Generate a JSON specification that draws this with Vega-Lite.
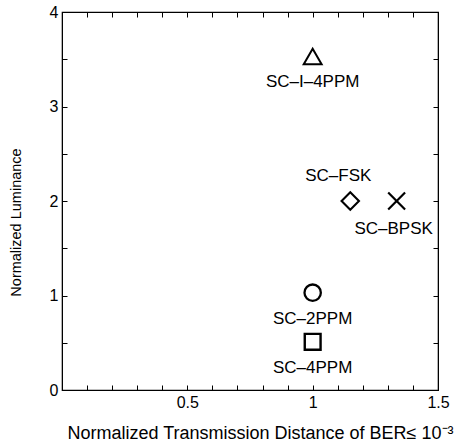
{
  "$schema": "https://vega.github.io/schema/vega-lite/v6.json",
  "width": 376,
  "height": 378,
  "autosize": "none",
  "padding": {"left": 62, "top": 12, "right": 29, "bottom": 55},
  "background": "white",
  "config": {
    "font": "Liberation Sans",
    "view": {"stroke": "black", "strokeWidth": 1.2},
    "axis": {"grid": false, "domainColor": "black", "tickColor": "black", "labelColor": "black", "titleColor": "black", "labelFont": "Liberation Sans", "titleFont": "Liberation Sans", "titleFontWeight": "normal"}
  },
  "data": {
    "values": [
      {"label": "SC–I–4PPM", "x": 1.0, "y": 3.53},
      {"label": "SC–FSK", "x": 1.15, "y": 2.0},
      {"label": "SC–BPSK", "x": 1.335, "y": 2.0},
      {"label": "SC–2PPM", "x": 1.0, "y": 1.03},
      {"label": "SC–4PPM", "x": 1.0, "y": 0.51}
    ]
  },
  "resolve": {"axis": {"x": "independent", "y": "independent"}},
  "layer": [
    {
      "encoding": {
        "x": {
          "field": "x", "type": "quantitative",
          "scale": {"domain": [0, 1.5], "nice": false, "zero": false},
          "axis": {
            "orient": "bottom",
            "title": "Normalized Transmission Distance of BER≤ 10⁻³",
            "titleFontSize": 18,
            "titleX": 198, "titleY": 48, "titleBaseline": "alphabetic", "titleAnchor": "middle", "titleAlign": "center",
            "values": [0, 0.1, 0.2, 0.3, 0.4, 0.5, 0.6, 0.7, 0.8, 0.9, 1, 1.1, 1.2, 1.3, 1.4, 1.5],
            "labelExpr": "(datum.value == 0.5 || datum.value == 1 || datum.value == 1.5) ? '' + datum.value : ''",
            "labelFontSize": 16, "labelPadding": 9, "labelFlush": false,
            "tickSize": -5, "domain": true, "labelOverlap": false
          }
        },
        "y": {
          "field": "y", "type": "quantitative",
          "scale": {"domain": [0, 4], "nice": false, "zero": false},
          "axis": {
            "orient": "left",
            "title": "Normalized Luminance",
            "titleFontSize": 14.5,
            "titleX": -46, "titleY": 210, "titleAngle": -90, "titleBaseline": "middle", "titleAlign": "center", "titleAnchor": "middle",
            "values": [0, 0.5, 1, 1.5, 2, 2.5, 3, 3.5, 4],
            "labelExpr": "datum.value % 1 == 0 ? '' + datum.value : ''",
            "labelFontSize": 16, "labelPadding": 9, "labelFlush": false,
            "tickSize": -5, "domain": true, "labelOverlap": false
          }
        }
      },
      "layer": [
        {
          "mark": {"type": "point", "filled": false, "stroke": "black", "opacity": 1},
          "encoding": {
            "shape": {"field": "label", "type": "nominal", "legend": null,
              "scale": {"domain": ["SC–I–4PPM", "SC–FSK", "SC–BPSK", "SC–2PPM", "SC–4PPM"],
                        "range": ["triangle-up", "diamond", "M-1,-1L1,1M1,-1L-1,1", "circle", "square"]}},
            "size": {"field": "label", "type": "nominal", "legend": null,
              "scale": {"domain": ["SC–I–4PPM", "SC–FSK", "SC–BPSK", "SC–2PPM", "SC–4PPM"],
                        "range": [320, 250, 130, 256, 156]}},
            "strokeWidth": {"field": "label", "type": "nominal", "legend": null,
              "scale": {"domain": ["SC–I–4PPM", "SC–FSK", "SC–BPSK", "SC–2PPM", "SC–4PPM"],
                        "range": [2, 2.4, 1.1, 1.8, 2.4]}}
          }
        },
        {
          "transform": [{"filter": "indexof(['SC–I–4PPM','SC–2PPM','SC–4PPM'], datum.label) >= 0"}],
          "mark": {"type": "text", "fontSize": 17, "dy": 26, "baseline": "middle", "align": "center", "color": "black"},
          "encoding": {"text": {"field": "label"}}
        },
        {
          "transform": [{"filter": "datum.label == 'SC–FSK'"}],
          "mark": {"type": "text", "fontSize": 17, "dx": -12, "dy": -25, "baseline": "middle", "align": "center", "color": "black"},
          "encoding": {"text": {"field": "label"}}
        },
        {
          "transform": [{"filter": "datum.label == 'SC–BPSK'"}],
          "mark": {"type": "text", "fontSize": 17, "dx": -3, "dy": 28, "baseline": "middle", "align": "center", "color": "black"},
          "encoding": {"text": {"field": "label"}}
        }
      ]
    },
    {
      "mark": {"type": "point", "opacity": 0},
      "encoding": {
        "x": {
          "field": "x", "type": "quantitative",
          "scale": {"domain": [0, 1.5], "nice": false, "zero": false},
          "axis": {"orient": "top", "title": null, "labels": false, "tickSize": -5, "domain": true,
            "values": [0, 0.1, 0.2, 0.3, 0.4, 0.5, 0.6, 0.7, 0.8, 0.9, 1, 1.1, 1.2, 1.3, 1.4, 1.5]}
        },
        "y": {
          "field": "y", "type": "quantitative",
          "scale": {"domain": [0, 4], "nice": false, "zero": false},
          "axis": {"orient": "right", "title": null, "labels": false, "tickSize": -5, "domain": true,
            "values": [0, 0.5, 1, 1.5, 2, 2.5, 3, 3.5, 4]}
        }
      }
    }
  ]
}
